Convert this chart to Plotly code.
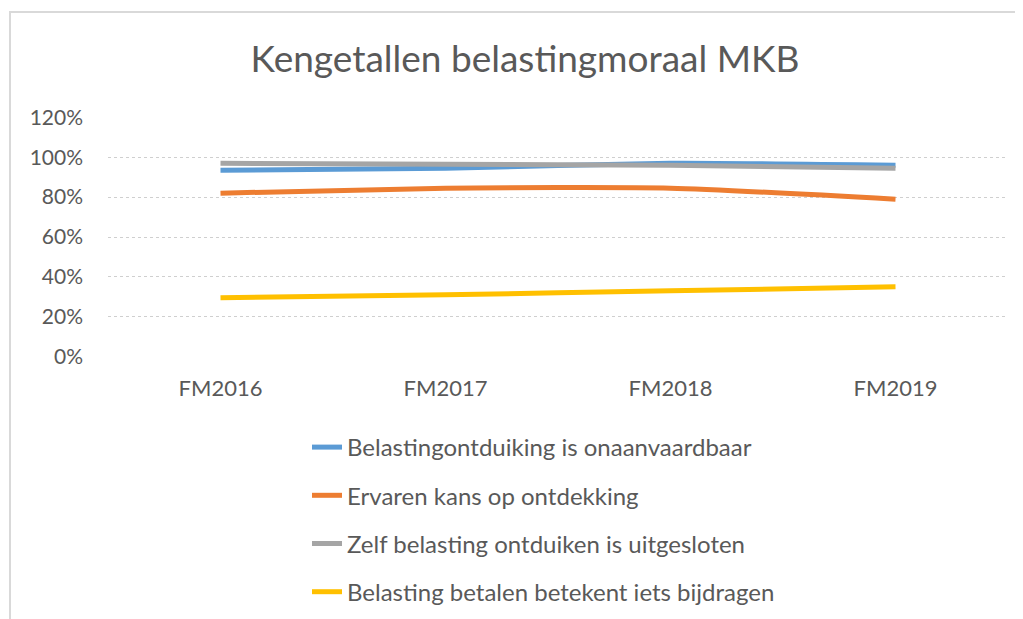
import plotly.graph_objects as go

categories = ["FM2016", "FM2017", "FM2018", "FM2019"]
series_names = [
    "Belastingontduiking is onaanvaardbaar",
    "Ervaren kans op ontdekking",
    "Zelf belasting ontduiken is uitgesloten",
    "Belasting betalen betekent iets bijdragen",
]
onaanvaardbaar = [0.935, 0.945, 0.97, 0.96]
kans_ontdekking = [0.82, 0.845, 0.845, 0.79]
uitgesloten = [0.97, 0.965, 0.96, 0.945]
bijdragen = [0.295, 0.31, 0.33, 0.35]
colors = ["#5B9BD5", "#ED7D31", "#A5A5A5", "#FFC000"]
tick_vals = [0, 0.2, 0.4, 0.6, 0.8, 1.0, 1.2]

FONT = "Lato, 'Open Sans', sans-serif"
OFF = 8  # page body margin of the html output
W, H = 1023, 619
ML, MT = 108 - OFF, 117 - OFF
PW, PH = 900, 240
MR = W - ML - PW
MB = H - MT - PH


def px_x(p):
    return (p - OFF - ML) / PW


def px_y(p):
    return (MT + PH - (p - OFF)) / PH


fig = go.Figure()
for i, (name, vals) in enumerate(zip(series_names, [onaanvaardbaar, kans_ontdekking, uitgesloten, bijdragen])):
    fig.add_trace(go.Scatter(
        x=categories, y=vals, name=name, mode="lines",
        line=dict(color=colors[i], width=5, shape="spline", smoothing=0.6),
        legendgroup=f"g{i}",
    ))

fig.update_layout(
    width=W, height=H,
    margin=dict(l=ML, r=MR, t=MT, b=MB, autoexpand=False),
    paper_bgcolor="white", plot_bgcolor="white",
    font=dict(family=FONT, color="#595959", size=22),
    title=dict(text="Kengetallen belastingmoraal MKB", x=(525 - OFF) / W, xanchor="center",
               y=1 - (59 - OFF) / H, yanchor="middle",
               font=dict(family=FONT, size=37, color="#595959")),
    xaxis=dict(type="category", range=[-0.5, 3.5], showgrid=False, showline=False,
               ticks="", ticklabelstandoff=16, tickfont=dict(size=22, color="#595959")),
    yaxis=dict(range=[-0.002, 1.202], tickvals=tick_vals, tickformat=".0%",
               showgrid=True, gridcolor="#cfcfcf", griddash="dot", gridwidth=1,
               zeroline=False, showline=False, ticks="", ticklabelstandoff=24,
               tickfont=dict(size=21, color="#595959")),
    showlegend=True,
    legend=dict(orientation="v", x=px_x(307), xanchor="left", y=px_y(425), yanchor="top",
                tracegroupgap=14, font=dict(size=24, color="#595959"),
                bgcolor="rgba(0,0,0,0)"),
    shapes=[dict(type="rect", xref="paper", yref="paper",
                 x0=px_x(10), x1=px_x(1060), y0=px_y(660), y1=px_y(12),
                 line=dict(color="#d9d9d9", width=2), fillcolor="rgba(0,0,0,0)", layer="below")],
)

fig.write_html("out.html")
